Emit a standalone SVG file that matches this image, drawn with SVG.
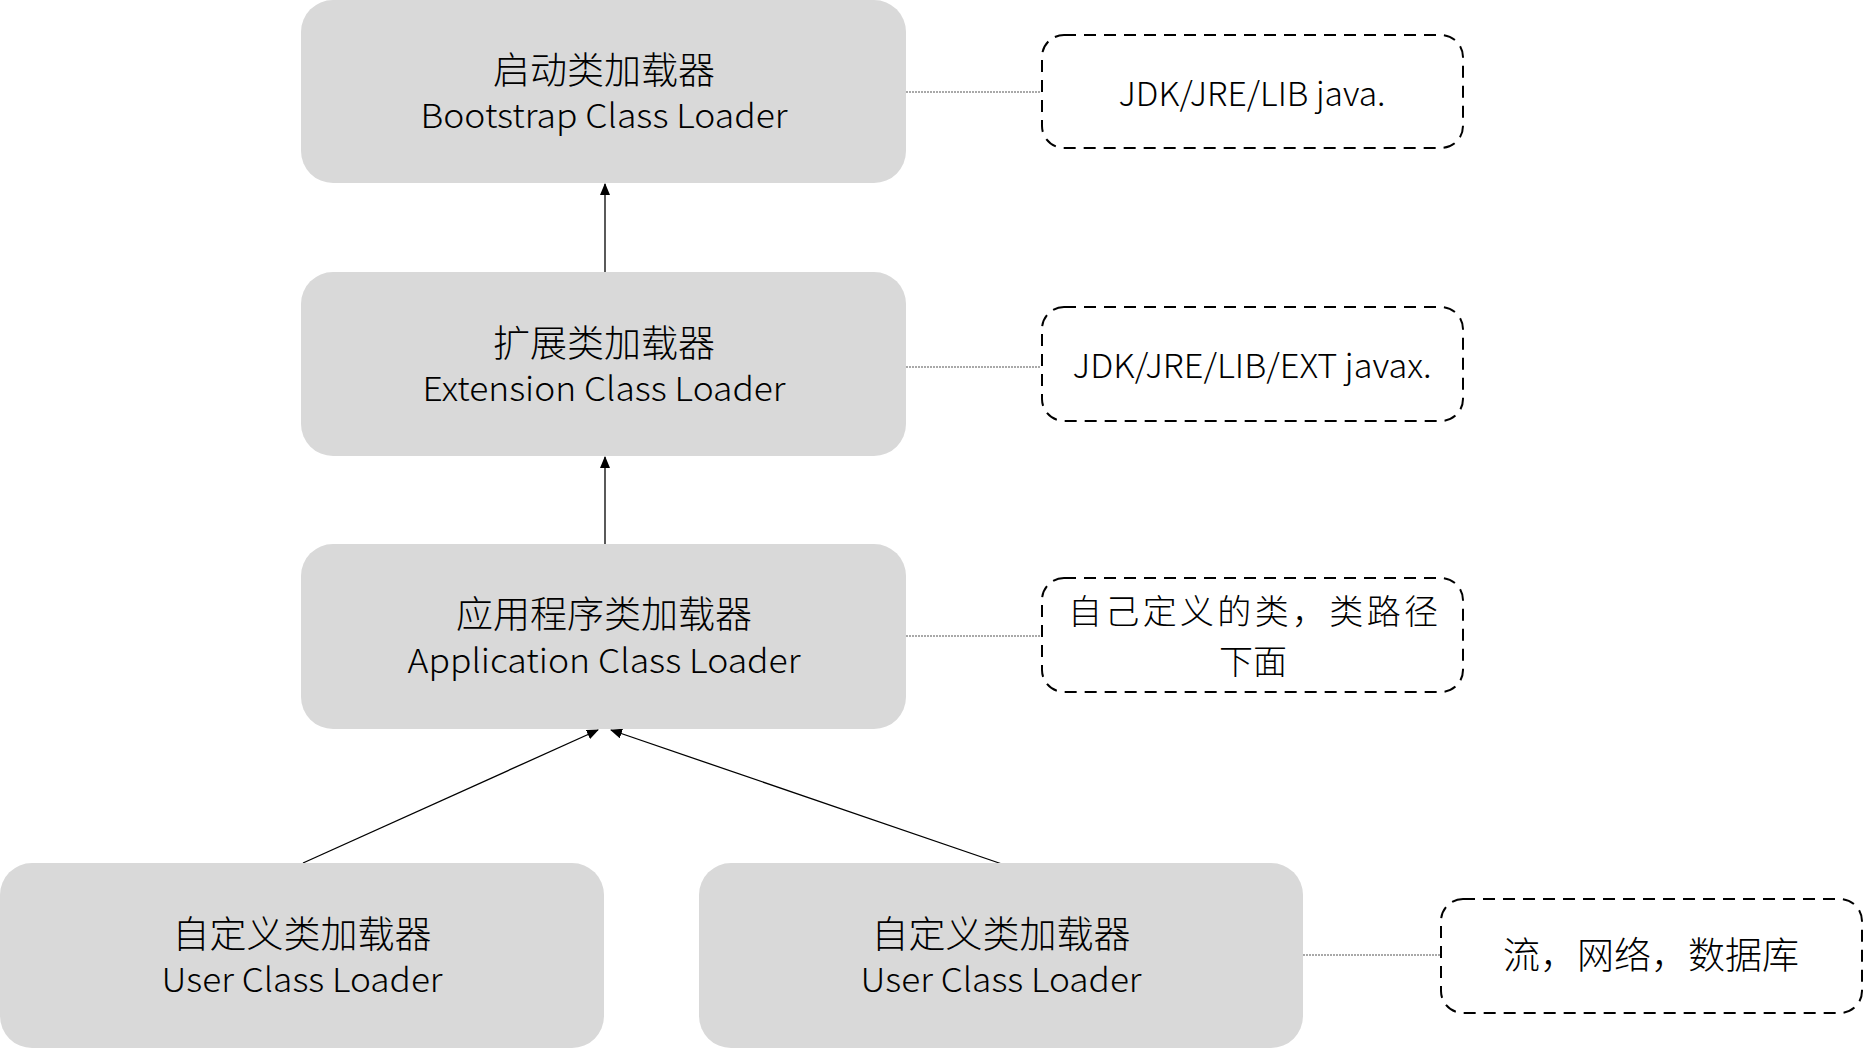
<svg xmlns="http://www.w3.org/2000/svg" width="1864" height="1048" viewBox="0 0 1864 1048">
<style>
.node{fill:#d9d9d9;}
.note{fill:#fff;stroke:#000;stroke-width:2;stroke-dasharray:12 8;}
.t{font-family:"Noto Sans CJK SC","Noto Sans",sans-serif;font-weight:300;fill:#000;text-anchor:middle;}
.cn{font-size:37px;}
.cn2{font-size:34px;}
.en{font-size:33px;}
.arrow{stroke:#000;stroke-width:1.3;fill:none;marker-end:url(#ah);}
.dot{stroke:#555;stroke-width:1.2;stroke-dasharray:2 1;fill:none;}
</style>
<defs>
<marker id="ah" markerWidth="12" markerHeight="10" refX="11" refY="5" orient="auto" markerUnits="userSpaceOnUse">
<path d="M0,0 L12,5 L0,10 Z" fill="#000"/>
</marker>
</defs>
<rect width="1864" height="1048" fill="#fff"/>
<g id="connectors">
<line class="arrow" x1="605" y1="272" x2="605" y2="184"/>
<line class="arrow" x1="605" y1="544" x2="605" y2="457"/>
<line class="arrow" x1="303" y1="863" x2="598" y2="730"/>
<line class="arrow" x1="1002" y1="864" x2="611" y2="730"/>
<line class="dot" x1="906" y1="92" x2="1041" y2="92"/>
<line class="dot" x1="906" y1="367" x2="1041" y2="367"/>
<line class="dot" x1="906" y1="636" x2="1041" y2="636"/>
<line class="dot" x1="1303" y1="955" x2="1441" y2="955"/>
</g>
<g id="bootstrap">
<rect class="node" x="301" y="0" width="605" height="183" rx="32"/>
<text class="t cn" x="604" y="84">启动类加载器</text>
<text class="t en" x="604" y="128" textLength="367" lengthAdjust="spacingAndGlyphs">Bootstrap Class Loader</text>
</g>
<g id="extension">
<rect class="node" x="301" y="272" width="605" height="184" rx="32"/>
<text class="t cn" x="604" y="357">扩展类加载器</text>
<text class="t en" x="604" y="401" textLength="363" lengthAdjust="spacingAndGlyphs">Extension Class Loader</text>
</g>
<g id="application">
<rect class="node" x="301" y="544" width="605" height="185" rx="32"/>
<text class="t cn" x="604" y="628">应用程序类加载器</text>
<text class="t en" x="604" y="673" textLength="393" lengthAdjust="spacingAndGlyphs">Application Class Loader</text>
</g>
<g id="user1">
<rect class="node" x="0" y="863" width="604" height="185" rx="32"/>
<text class="t cn" x="302" y="948">自定义类加载器</text>
<text class="t en" x="302" y="992" textLength="281" lengthAdjust="spacingAndGlyphs">User Class Loader</text>
</g>
<g id="user2">
<rect class="node" x="699" y="863" width="604" height="185" rx="32"/>
<text class="t cn" x="1001" y="948">自定义类加载器</text>
<text class="t en" x="1001" y="992" textLength="281" lengthAdjust="spacingAndGlyphs">User Class Loader</text>
</g>
<g id="note-bootstrap">
<rect class="note" x="1042" y="35" width="421" height="113" rx="22"/>
<text class="t en" x="1252" y="106" textLength="267" lengthAdjust="spacingAndGlyphs">JDK/JRE/LIB java.</text>
</g>
<g id="note-extension">
<rect class="note" x="1042" y="307" width="421" height="114" rx="22"/>
<text class="t en" x="1252" y="378" textLength="359" lengthAdjust="spacingAndGlyphs">JDK/JRE/LIB/EXT javax.</text>
</g>
<g id="note-application">
<rect class="note" x="1042" y="578" width="421" height="114" rx="22"/>
<text class="t cn2"><tspan x="1253" y="624" textLength="370" lengthAdjust="spacing">自己定义的类，类路径</tspan><tspan x="1253" y="674">下面</tspan></text>
</g>
<g id="note-user">
<rect class="note" x="1441" y="899" width="421" height="114" rx="22"/>
<text class="t cn" x="1651" y="969">流，网络，数据库</text>
</g>
</svg>
